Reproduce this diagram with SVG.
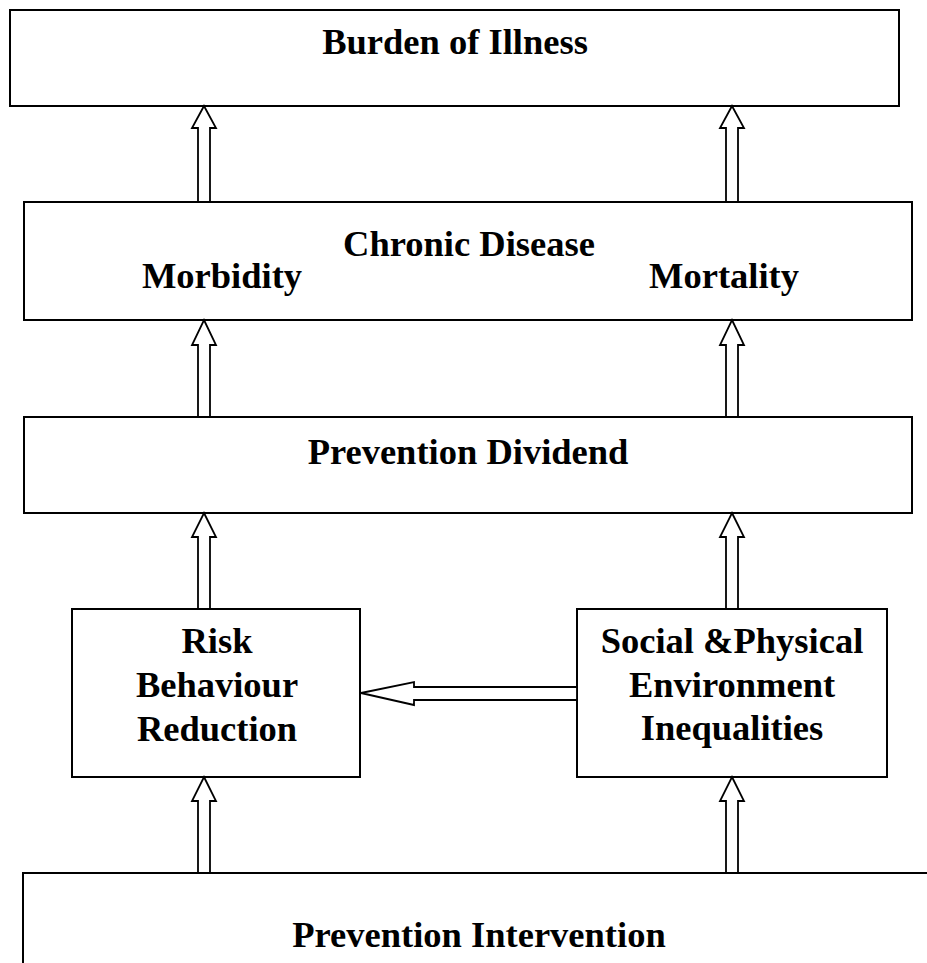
<svg xmlns="http://www.w3.org/2000/svg" width="927" height="963" viewBox="0 0 927 963">
<style>
.box{fill:#fff;stroke:#000;stroke-width:2}
.arr{fill:#fff;stroke:#000;stroke-width:1.8;stroke-linejoin:miter}
.t{font-family:"Liberation Serif","Times New Roman",serif;font-weight:bold;font-size:36.5px;fill:#000;text-anchor:middle}
</style>
<rect width="927" height="963" fill="#fff"/>
<g id="burden">
<rect class="box" x="10" y="10" width="889" height="96"/>
<text class="t" x="455" y="54">Burden of Illness</text>
</g>
<g id="chronic">
<rect class="box" x="24" y="202" width="888" height="118"/>
<text class="t" x="469" y="256">Chronic Disease</text>
<text class="t" x="222" y="288">Morbidity</text>
<text class="t" x="724" y="288">Mortality</text>
</g>
<g id="dividend">
<rect class="box" x="24" y="417" width="888" height="96"/>
<text class="t" x="468" y="464">Prevention Dividend</text>
</g>
<g id="risk">
<rect class="box" x="72" y="609" width="288" height="168"/>
<text class="t" x="217" y="653">Risk</text>
<text class="t" x="217" y="697">Behaviour</text>
<text class="t" x="217" y="741">Reduction</text>
</g>
<g id="social">
<rect class="box" x="577" y="609" width="310" height="168"/>
<text class="t" x="732" y="653">Social &amp;Physical</text>
<text class="t" x="732" y="697">Environment</text>
<text class="t" x="732" y="740">Inequalities</text>
</g>
<g id="intervention">
<path class="box" d="M23,963 V873 H930"/>
<text class="t" x="479" y="947">Prevention Intervention</text>
</g>
<g id="connectors">
<path class="arr" d="M204,106 L216,128 L210,128 L210,202 L198,202 L198,128 L192,128 Z"/>
<path class="arr" d="M732,106 L744,128 L738,128 L738,202 L726,202 L726,128 L720,128 Z"/>
<path class="arr" d="M204,320 L216,345 L210,345 L210,417 L198,417 L198,345 L192,345 Z"/>
<path class="arr" d="M732,320 L744,345 L738,345 L738,417 L726,417 L726,345 L720,345 Z"/>
<path class="arr" d="M204,513 L216,537 L210,537 L210,609 L198,609 L198,537 L192,537 Z"/>
<path class="arr" d="M732,513 L744,537 L738,537 L738,609 L726,609 L726,537 L720,537 Z"/>
<path class="arr" d="M204,777 L216,801 L210,801 L210,873 L198,873 L198,801 L192,801 Z"/>
<path class="arr" d="M732,777 L744,801 L738,801 L738,873 L726,873 L726,801 L720,801 Z"/>
<path class="arr" d="M361,693 L414,682 L414,687 L577,687 L577,700 L414,700 L414,705 Z"/>
</g>
</svg>
